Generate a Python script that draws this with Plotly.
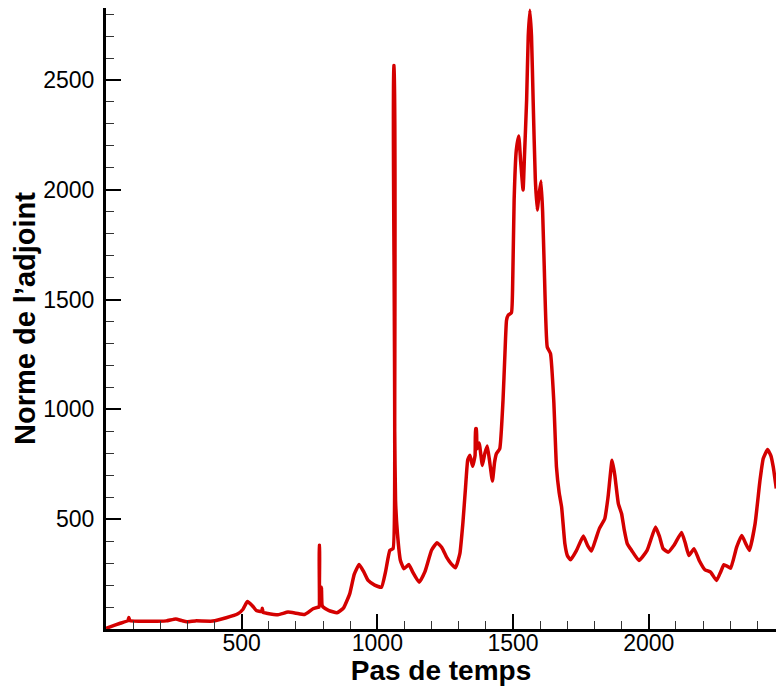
import plotly.graph_objects as go

# Time step index and the adjoint norm at that step
steps = [0, 20, 50, 81, 84, 88, 150, 222, 257, 280, 298, 330, 393, 443, 486, 505, 521, 540,
         554, 574, 576, 579, 591, 634, 671, 700, 732, 763, 781, 785, 786, 787, 788, 793, 794,
         796, 800, 820, 851, 875, 898, 915, 933, 950, 966, 990, 1015, 1030, 1046, 1058, 1060,
         1062, 1064, 1067, 1074, 1085, 1098, 1108, 1116, 1130, 1154, 1175, 1200, 1220, 1238,
         1255, 1270, 1288, 1304, 1315, 1325, 1333, 1341, 1351, 1360, 1362, 1365, 1367, 1375,
         1387, 1396, 1405, 1414, 1424, 1432, 1439, 1451, 1463, 1470, 1476, 1482, 1494, 1499,
         1504, 1512, 1521, 1528, 1537, 1542, 1550, 1556, 1562, 1568, 1574, 1582, 1589, 1596,
         1603, 1609, 1615, 1626, 1638, 1650, 1660, 1670, 1679, 1691, 1700, 1712, 1734, 1759,
         1775, 1789, 1805, 1818, 1838, 1850, 1865, 1875, 1888, 1900, 1910, 1921, 1937, 1964,
         1994, 2025, 2040, 2053, 2072, 2093, 2121, 2135, 2148, 2167, 2186, 2207, 2228, 2250,
         2265, 2277, 2290, 2302, 2324, 2343, 2357, 2371, 2392, 2410, 2422, 2438, 2450, 2459,
         2470]
norm = [3, 12, 25, 38, 52, 38, 35, 37, 46, 38, 33, 37, 36, 51, 69, 90, 125, 105,
        84, 80, 95, 75, 72, 65, 77, 72, 66, 92, 99, 100, 381, 381, 110, 110, 190,
        110, 100, 85, 74, 95, 160, 250, 294, 260, 221, 200, 190, 260, 358, 366, 2565,
        2565, 900, 585, 435, 312, 274, 285, 294, 260, 213, 260, 360, 393, 370,
        327, 300, 279, 343, 480, 646, 770, 791, 741, 790, 912, 912, 820, 847,
        745, 800, 833, 760, 674, 760, 799, 821, 1041, 1250, 1406, 1429, 1440, 1600,
        1953, 2180, 2245, 2130, 1999, 2150, 2409, 2700, 2818, 2700, 2409, 2050, 1908, 1980,
        2040, 1900, 1649, 1284, 1254, 1041, 737, 620, 555, 388, 335, 315, 358, 423,
        380, 355, 410, 457, 502, 600, 768, 700, 571, 525, 450, 388, 358, 312,
        358, 464, 420, 366, 350, 381, 440, 390, 335, 366, 312, 270, 259, 221,
        260, 293, 285, 277, 373, 426, 390, 358, 480, 677, 776, 817, 790, 737,
        640]

x_ticks = [500, 1000, 1500, 2000]
y_ticks = [500, 1000, 1500, 2000, 2500]

fig = go.Figure(go.Scatter(
    x=steps, y=norm, mode="lines",
    line=dict(color="#d40000", width=3.5, shape="spline", smoothing=0.4),
    showlegend=False,
))

axis_common = dict(
    showline=True, linewidth=3, linecolor="black", mirror=False,
    showgrid=False, zeroline=False,
    ticks="inside", ticklen=15, tickwidth=2, tickcolor="black",
    tickfont=dict(family="Liberation Sans, Arial, sans-serif", size=23, color="black"),
    minor=dict(dtick=100, tick0=0, ticks="inside", ticklen=8, tickwidth=1,
               tickcolor="#333333"),
)

fig.update_xaxes(
    range=[0, 2469], tickvals=x_ticks, ticklabelstandoff=-9,
    title=dict(text="Pas de temps", standoff=16,
               font=dict(family="Liberation Sans, Arial, sans-serif", size=28,
                         color="black", weight="bold")),
    **axis_common,
)
fig.update_yaxes(
    range=[0, 2828], tickvals=y_ticks, ticklabelstandoff=4,
    title=dict(text="Norme de l’adjoint", standoff=0,
               font=dict(family="Liberation Sans, Arial, sans-serif", size=29,
                         color="black", weight="bold")),
    **axis_common,
)

fig.update_layout(
    width=776, height=686,
    margin=dict(l=106, r=0, t=8, b=57, autoexpand=False),
    paper_bgcolor="white", plot_bgcolor="white",
)

fig.write_html("out.html")
